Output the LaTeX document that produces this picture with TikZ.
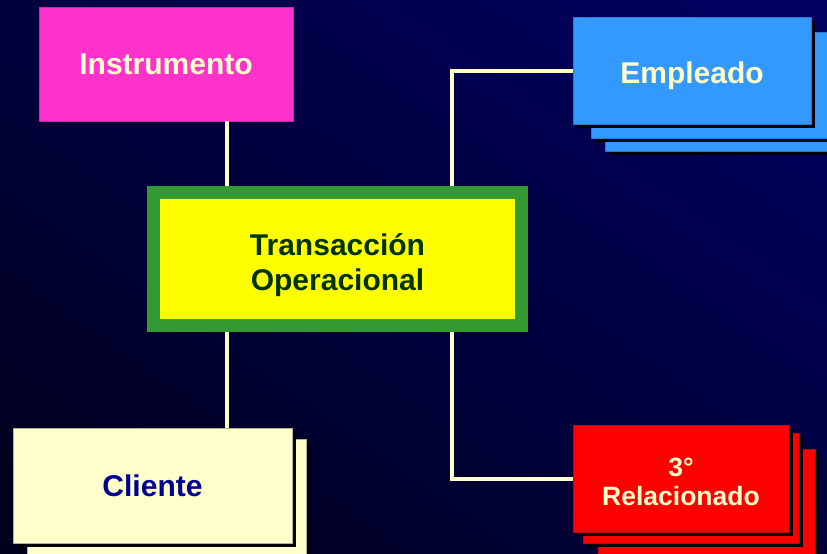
\documentclass[tikz,border=0pt]{standalone}
\usepackage{fontspec}
\setmainfont{Liberation Sans}
\usetikzlibrary{calc}
\definecolor{cream}{HTML}{FFFFCC}
\definecolor{magentabox}{HTML}{FF33CC}
\definecolor{bluebox}{HTML}{3399FF}
\definecolor{redbox}{HTML}{FF0000}
\definecolor{greenframe}{HTML}{339933}
\definecolor{yellowbox}{HTML}{FFFF00}
\definecolor{darkgreentext}{HTML}{003300}
\definecolor{darkbluetext}{HTML}{000099}
\definecolor{bgdark}{HTML}{00001E}
\definecolor{bglight}{HTML}{00005E}
\begin{document}
\begin{tikzpicture}[x=1pt,y=-1pt,
  shadowbox/.style={fill=black,draw=none},
  card/.style={rectangle,inner sep=0pt,outer sep=0pt,line width=0.8pt,align=center,font=\bfseries\fontsize{30}{35}\selectfont},
  cardtext/.style={inner sep=0pt,align=center,font=\bfseries\fontsize{30}{35}\selectfont},
  link/.style={draw=cream,line width=4pt}
]
\useasboundingbox (0,0) rectangle (827,554);
\shade[shading=axis,bottom color=bgdark,top color=bglight,shading angle=-35] (-60,-60) rectangle (887,614);

% Instrumento
\node[card,fill=magentabox,draw=magentabox!80!black,text=cream,minimum width=254pt,minimum height=114pt] (instr) at (166,64) {Instrumento};

% Empleado stack
\fill[shadowbox] (609,50) rectangle (860,155);
\fill[bluebox,draw=bluebox!80!black,line width=0.8pt] (605,46) rectangle (856,151);
\fill[shadowbox] (595,36) rectangle (860,142);
\fill[bluebox,draw=bluebox!80!black,line width=0.8pt] (591,32) rectangle (856,138);
\fill[shadowbox] (577,21) rectangle (815,128);
\node[card,fill=bluebox,draw=bluebox!80!black,minimum width=238pt,minimum height=107pt] (empl) at (692,70.5) {};
\node[cardtext,text=cream] (empltxt) at ($(empl.center)+(0,5)$) {Empleado};

% 3 Relacionado stack
\fill[shadowbox] (602,453) rectangle (819,580);
\fill[redbox,draw=red!80!black,line width=0.8pt] (598,449) rectangle (815,580);
\fill[shadowbox] (587,437) rectangle (803,547);
\fill[redbox,draw=red!80!black,line width=0.8pt] (583,433) rectangle (799,543);
\fill[shadowbox] (577,429) rectangle (793,536);
\node[card,fill=redbox,draw=red!80!black,minimum width=216pt,minimum height=107pt] (rel) at (681,478.5) {};
\node[cardtext,text=cream,font=\bfseries\fontsize{26.5}{29}\selectfont] (reltxt) at ($(rel.center)+(0,3)$) {3°\\Relacionado};

% Cliente stack
\fill[shadowbox] (31,443) rectangle (310,580);
\fill[cream,draw=cream!70!black,line width=0.8pt] (27,439) rectangle (306,580);
\fill[shadowbox] (17,432) rectangle (296,547);
\node[card,fill=cream,draw=cream!70!black,text=darkbluetext,minimum width=279pt,minimum height=115pt] (cli) at (152.5,485.5) {Cliente};

% Central
\node[card,fill=yellowbox,draw=greenframe,line width=13pt,outer sep=6.5pt,minimum width=368pt,minimum height=133pt] (trans) at (337.5,259) {};
\node[cardtext,text=darkgreentext] (transtxt) at ($(trans.center)+(0,6)$) {Transacción\\Operacional};

% connectors
\coordinate (tl) at ($(trans.north west)!0.21!(trans.north east)$);
\coordinate (tr) at ($(trans.north west)!0.8!(trans.north east)$);
\coordinate (bl) at ($(trans.south west)!0.21!(trans.south east)$);
\coordinate (br) at ($(trans.south west)!0.8!(trans.south east)$);
\draw[link] (tl) -- (tl |- instr.south);
\draw[link] (bl) -- (bl |- cli.north);
\draw[link] (tr) -- (tr |- empl.west) -- (empl.west);
\draw[link] (br) -- (br |- rel.west) -- (rel.west);
\end{tikzpicture}
\end{document}
